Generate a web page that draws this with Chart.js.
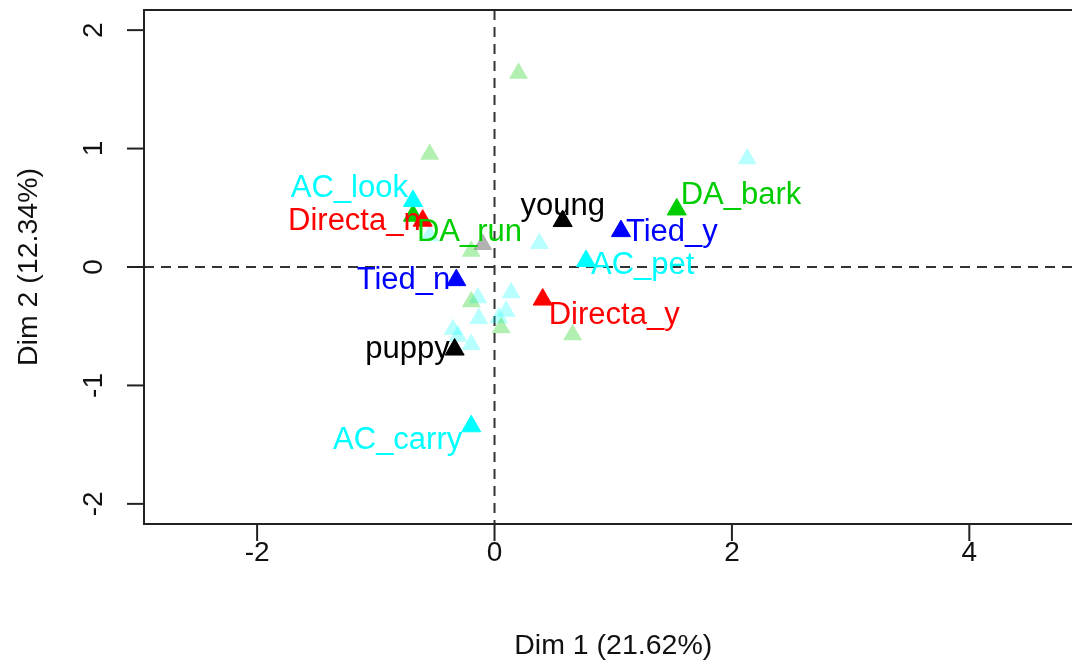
<!DOCTYPE html>
<html><head><meta charset="utf-8">
<script src="https://cdn.jsdelivr.net/npm/chart.js@4.4.1/dist/chart.umd.min.js"></script>
<style>
html,body{margin:0;padding:0;overflow:hidden;background:#fff;width:1072px;height:662px}
canvas{display:block}
</style>
</head><body><canvas id="c" width="1072" height="662" style="width:1072px;height:662px"></canvas>
<script>
// ---- data ----
const xTicks = [-2, 0, 2, 4];
const yTicks = [-2, -1, 0, 1, 2];
const xTitle = 'Dim 1 (21.62%)';
const yTitle = 'Dim 2 (12.34%)';

const catLabels = ['DA_run','DA_bark','AC_look','AC_pet','AC_carry','Tied_n','Tied_y','Directa_n','Directa_y','puppy','young'];
const catX      = [-0.687, 1.535, -0.687, 0.771, -0.196, -0.322, 1.065, -0.605, 0.406, -0.336, 0.574];
const catY      = [ 0.433, 0.486,  0.557, 0.050, -1.345, -0.111, 0.303,  0.391, -0.275, -0.697, 0.388];
const catVar    = ['DA','DA','AC','AC','AC','Tied','Tied','Directa','Directa','age','age'];

const indX     = [0.202, -0.546, -0.196, -0.196, 0.056, 0.658, 2.129, 0.378, -0.546, -0.140, 0.140, -0.132, 0.098, 0.036, -0.350, -0.308, -0.196, -0.098];
const indY     = [1.636,  0.951,  0.134, -0.294, -0.514, -0.571, 0.915, 0.199, 0.264, -0.260, -0.218, -0.435, -0.373, -0.429, -0.528, -0.584, -0.655, 0.190];
const indGroup = ['DA','DA','DA','DA','DA','DA','AC','AC','AC','AC','AC','AC','AC','AC','AC','AC','AC','age'];

// ---- styles ----
const varColor  = {DA:'#00CD00', AC:'#00FFFF', Tied:'#0000FF', Directa:'#FF0000', age:'#000000'};
const paleColor = {DA:'rgba(0,205,0,0.3)', AC:'rgba(0,255,255,0.28)', age:'rgba(0,0,0,0.3)'};
const labelPlace = {
  DA_run:{dx:4,dy:17,a:'left'}, DA_bark:{dx:4,dy:-14,a:'left'},
  AC_look:{dx:-5,dy:-13,a:'right'}, AC_pet:{dx:5,dy:4,a:'left'}, AC_carry:{dx:-9,dy:14,a:'right'},
  Tied_n:{dx:-6,dy:0,a:'right'}, Tied_y:{dx:5,dy:1,a:'left'},
  Directa_n:{dx:-2,dy:1,a:'right'}, Directa_y:{dx:6,dy:16,a:'left'},
  puppy:{dx:-5,dy:0,a:'right'}, young:{dx:0,dy:-15,a:'center'}
};
const FONT = '"Liberation Sans", Arial, Helvetica, sans-serif';
const PR = 11;

const catPoints = catX.map((x,i)=>({x:x, y:catY[i]}));
const groups = ['DA','AC','age'];
const paleSets = groups.map(g=>{
  const pts=[];
  indX.forEach((x,i)=>{ if(indGroup[i]===g) pts.push({x:x,y:indY[i]}); });
  return {data:pts, pointStyle:'triangle', pointRadius:PR, pointHoverRadius:PR,
    backgroundColor:paleColor[g], borderColor:'rgba(0,0,0,0)', borderWidth:0};
});

const axesPlugin = {
  id:'rAxes',
  beforeDatasetsDraw(chart){
    const {ctx, chartArea:a, scales:{x,y}} = chart;
    ctx.save();
    ctx.strokeStyle='#333'; ctx.lineWidth=2; ctx.setLineDash([10,7]);
    const x0=x.getPixelForValue(0), y0=y.getPixelForValue(0);
    ctx.beginPath(); ctx.moveTo(a.left,y0); ctx.lineTo(a.right,y0); ctx.stroke();
    ctx.beginPath(); ctx.moveTo(x0,a.top); ctx.lineTo(x0,a.bottom); ctx.stroke();
    ctx.restore();
  },
  afterDraw(chart){
    const {ctx, chartArea:a, scales:{x,y}} = chart;
    ctx.save();
    ctx.strokeStyle='#222'; ctx.lineWidth=2; ctx.setLineDash([]);
    ctx.beginPath();
    ctx.moveTo(a.right+2, a.top); ctx.lineTo(a.left, a.top); ctx.lineTo(a.left, a.bottom); ctx.lineTo(a.right+2, a.bottom);
    ctx.stroke();
    ctx.fillStyle='#111';
    ctx.font='28px '+FONT;
    ctx.textAlign='center'; ctx.textBaseline='middle';
    xTicks.forEach(v=>{
      const px=x.getPixelForValue(v);
      ctx.beginPath(); ctx.moveTo(px,a.bottom); ctx.lineTo(px,a.bottom+17); ctx.stroke();
      ctx.fillText(String(v), px, a.bottom+29);
    });
    yTicks.forEach(v=>{
      const py=y.getPixelForValue(v);
      ctx.beginPath(); ctx.moveTo(a.left,py); ctx.lineTo(a.left-17,py); ctx.stroke();
      ctx.save(); ctx.translate(a.left-50, py); ctx.rotate(-Math.PI/2);
      ctx.fillText(String(v), 0, 0); ctx.restore();
    });
    ctx.font='28.5px '+FONT;
    ctx.fillText(xTitle, x.getPixelForValue(1.0), 646);
    ctx.save(); ctx.translate(29,(a.top+a.bottom)/2); ctx.rotate(-Math.PI/2);
    ctx.fillText(yTitle,0,0); ctx.restore();
    ctx.restore();
  },
  afterDatasetsDraw(chart){
    const {ctx, scales:{x,y}} = chart;
    ctx.save();
    ctx.font='31px '+FONT; ctx.textBaseline='middle';
    catLabels.forEach((lab,i)=>{
      const p=labelPlace[lab];
      ctx.fillStyle=varColor[catVar[i]];
      ctx.textAlign=p.a;
      ctx.fillText(lab, x.getPixelForValue(catX[i])+p.dx, y.getPixelForValue(catY[i])+p.dy);
    });
    ctx.restore();
  }
};

new Chart(document.getElementById('c'), {
  type:'scatter',
  data:{datasets:[
    {data:catPoints, pointStyle:'triangle', pointRadius:PR, pointHoverRadius:PR,
     backgroundColor:catVar.map(v=>varColor[v]), borderColor:catVar.map(v=>varColor[v]), borderWidth:1}
  ].concat(paleSets)},
  options:{
    responsive:false, animation:false, devicePixelRatio:1,
    layout:{autoPadding:false, padding:{left:144, top:10, right:0, bottom:138}},
    plugins:{legend:{display:false}, tooltip:{enabled:false}},
    events:[],
    scales:{
      x:{type:'linear', min:-2.953, max:4.865, display:false},
      y:{type:'linear', min:-2.17, max:2.17, display:false}
    }
  },
  plugins:[axesPlugin]
});
</script>
</body></html>
